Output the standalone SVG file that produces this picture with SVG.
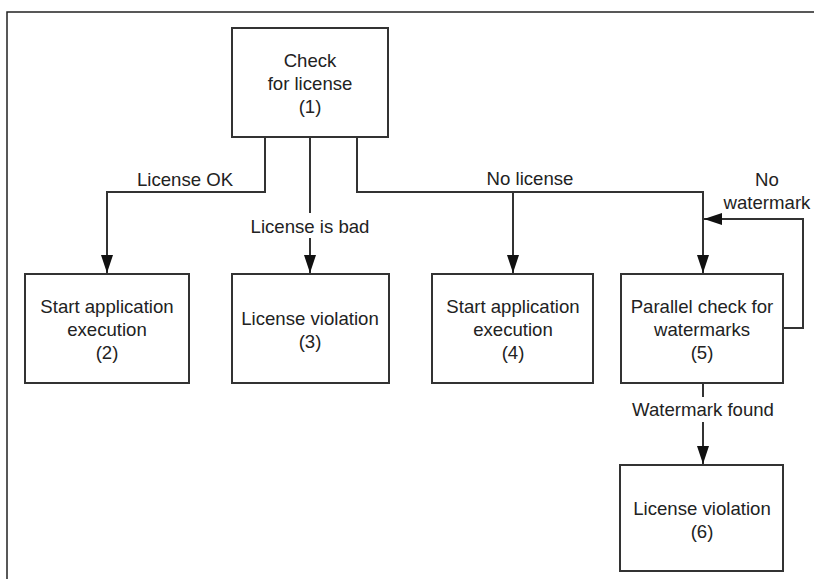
<svg xmlns="http://www.w3.org/2000/svg" width="814" height="579" viewBox="0 0 814 579">
<style>
.box{fill:#fff;stroke:#333;stroke-width:2}
.t{font-family:"Liberation Sans",Arial,sans-serif;font-size:18.6px;fill:#222;text-anchor:middle}
.c{fill:none;stroke:#333;stroke-width:2}
.frame{stroke:#222;stroke-width:1.5;fill:none}
</style>
<defs>
<marker id="ah" markerUnits="userSpaceOnUse" markerWidth="18" markerHeight="12" refX="18" refY="6" orient="auto">
<path d="M0,0 L18,6 L0,12 z" fill="#111"/>
</marker>
</defs>
<rect width="814" height="579" fill="#fff"/>
<path class="frame" d="M7,579 V12 H814"/>
<g id="connectors">
<path class="c" d="M265,137 V192 H107 V273" marker-end="url(#ah)"/>
<path class="c" d="M310,137 V213 M310,238 V273" marker-end="url(#ah)"/>
<path class="c" d="M357,137 V192 H703 V273" marker-end="url(#ah)"/>
<path class="c" d="M513,192 V273" marker-end="url(#ah)"/>
<path class="c" d="M783,328 H803 V219 H704" marker-end="url(#ah)"/>
<path class="c" d="M703,383 V397 M703,422 V464" marker-end="url(#ah)"/>
<text class="t" x="185" y="186">License OK</text>
<text class="t" x="310" y="233">License is bad</text>
<text class="t" x="530" y="185">No license</text>
<text class="t" x="767" y="186">No</text>
<text class="t" x="767" y="209">watermark</text>
<text class="t" x="703" y="416">Watermark found</text>
</g>
<g id="n1">
<rect class="box" x="232" y="28" width="156" height="109"/>
<text class="t" x="310" y="67">Check</text>
<text class="t" x="310" y="90">for license</text>
<text class="t" x="310" y="113">(1)</text>
</g>
<g id="n2">
<rect class="box" x="25" y="274" width="164" height="109"/>
<text class="t" x="107" y="313">Start application</text>
<text class="t" x="107" y="336">execution</text>
<text class="t" x="107" y="359">(2)</text>
</g>
<g id="n3">
<rect class="box" x="232" y="274" width="157" height="109"/>
<text class="t" x="310" y="325">License violation</text>
<text class="t" x="310" y="348">(3)</text>
</g>
<g id="n4">
<rect class="box" x="432" y="274" width="161" height="109"/>
<text class="t" x="513" y="313">Start application</text>
<text class="t" x="513" y="336">execution</text>
<text class="t" x="513" y="359">(4)</text>
</g>
<g id="n5">
<rect class="box" x="621" y="274" width="162" height="109"/>
<text class="t" x="702" y="313">Parallel check for</text>
<text class="t" x="702" y="336">watermarks</text>
<text class="t" x="702" y="359">(5)</text>
</g>
<g id="n6">
<rect class="box" x="620" y="465" width="163" height="106"/>
<text class="t" x="702" y="515">License violation</text>
<text class="t" x="702" y="538">(6)</text>
</g>
</svg>
